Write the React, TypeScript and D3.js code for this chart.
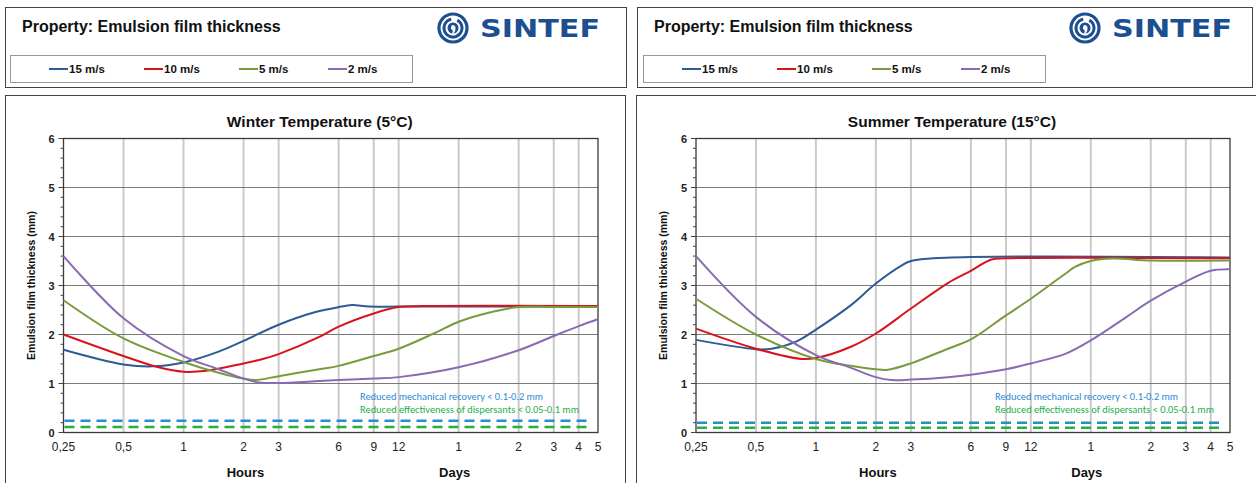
import React from "react";
import * as d3 from "d3";

type Pt = [number, number];

const seriesNames = ["15 m/s", "10 m/s", "5 m/s", "2 m/s"];
const seriesColors = ["#2d5b95", "#d7141c", "#7a9b3c", "#8a6bb3"];

const tickHours = [0.25, 0.5, 1, 2, 3, 6, 9, 12, 24, 48, 72, 96, 120];
const tickLabels = ["0,25", "0,5", "1", "2", "3", "6", "9", "12", "1", "2", "3", "4", "5"];
const yTicks = [0, 1, 2, 3, 4, 5, 6];

const winter15: Pt[] = [[0.25, 1.69], [0.5, 1.39], [0.7, 1.35], [1, 1.43], [1.5, 1.65], [2, 1.87], [3, 2.2], [4.5, 2.45], [6, 2.56], [7, 2.6], [8.5, 2.57], [12, 2.57], [120, 2.57]];
const winter10: Pt[] = [[0.25, 2.0], [0.5, 1.56], [0.75, 1.33], [1, 1.24], [1.3, 1.26], [2, 1.41], [2.5, 1.5], [3, 1.6], [4.8, 1.95], [6, 2.16], [9, 2.43], [12, 2.56], [16, 2.58], [120, 2.58]];
const winter5: Pt[] = [[0.25, 2.7], [0.5, 1.92], [1, 1.44], [1.5, 1.22], [2, 1.1], [2.3, 1.07], [3, 1.15], [4.8, 1.29], [6, 1.36], [9, 1.56], [12, 1.71], [18, 2.02], [24, 2.26], [36, 2.47], [48, 2.56], [72, 2.56], [120, 2.56]];
const winter2: Pt[] = [[0.25, 3.6], [0.5, 2.33], [1, 1.56], [1.5, 1.29], [2, 1.1], [2.4, 1.02], [3, 1.01], [4.8, 1.05], [6, 1.07], [9, 1.1], [12, 1.13], [24, 1.33], [48, 1.68], [72, 1.97], [96, 2.17], [120, 2.31]];

const summer15: Pt[] = [[0.25, 1.89], [0.5, 1.7], [0.6, 1.71], [0.8, 1.86], [1, 2.1], [1.5, 2.6], [2, 3.04], [2.7, 3.41], [3, 3.5], [4.8, 3.57], [120, 3.57]];
const summer10: Pt[] = [[0.25, 2.12], [0.5, 1.71], [0.85, 1.5], [1, 1.52], [1.5, 1.75], [2, 2.02], [3, 2.53], [4.6, 3.05], [6, 3.3], [7.6, 3.53], [9, 3.555], [120, 3.555]];
const summer5: Pt[] = [[0.25, 2.73], [0.5, 2.0], [1, 1.5], [1.5, 1.36], [2, 1.29], [2.3, 1.28], [3, 1.41], [4.6, 1.71], [6, 1.9], [9, 2.39], [12, 2.73], [18, 3.25], [20, 3.38], [24, 3.5], [31, 3.55], [48, 3.51], [120, 3.51]];
const summer2: Pt[] = [[0.25, 3.6], [0.5, 2.36], [1, 1.58], [1.5, 1.32], [2, 1.13], [2.4, 1.07], [3, 1.08], [4.6, 1.13], [6, 1.18], [9, 1.29], [12, 1.41], [18, 1.61], [24, 1.88], [36, 2.35], [48, 2.69], [72, 3.08], [96, 3.3], [120, 3.33]];

const winterThresholds = [0.24, 0.11];
const summerThresholds = [0.2, 0.095];
const thresholdColors = ["#2a8ad6", "#22b04b"];
const thresholdTexts = ["Reduced mechanical recovery < 0.1-0.2 mm", "Reduced effectiveness of dispersants < 0.05-0.1 mm"];

const FONT = "'Liberation Sans', Arial, sans-serif";

function Logo({ cx, cy, tx }: { cx: number; cy: number; tx: number }) {
  const col = "#1c4f8f";
  const arc = d3.arc();
  const mid = arc({ innerRadius: 7.5, outerRadius: 10.5, startAngle: 0.5, endAngle: 2 * Math.PI - 0.2 }) as string;
  return (
    <g>
      <circle cx={cx} cy={cy} r={14} fill="none" stroke={col} strokeWidth={3.2} />
      <path d={mid} transform={`translate(${cx},${cy})`} fill={col} />
      <circle cx={cx} cy={cy} r={5.5} fill={col} />
      <path d={`M${cx - 1},${cy - 3} q4,0 3.5,4 q-0.5,4 -4,6 q2,-3 1,-5 q-3,-1 -0.5,-5z`} fill="#fff" />
      <text x={tx} y={cy + 8.5} fontFamily="'DejaVu Sans', sans-serif" fontWeight={700} fontSize={24} fill={col} textLength={120} lengthAdjust="spacingAndGlyphs">SINTEF</text>
    </g>
  );
}

function Header({ x, w, legendX }: { x: number; w: number; legendX: number }) {
  const offs = [39, 134, 229, 318];
  return (
    <g>
      <rect x={x + 0.5} y={7.5} width={w} height={80} fill="#fff" stroke="#444" strokeWidth={1} />
      <text x={x + 17} y={32} fontFamily={FONT} fontWeight={700} fontSize={16} fill="#111">Property: Emulsion film thickness</text>
      <rect x={legendX + 0.5} y={55.5} width={402} height={27} fill="#fff" stroke="#999" strokeWidth={1} />
      {seriesNames.map((n, i) => (
        <g key={n}>
          <line x1={legendX + offs[i]} x2={legendX + offs[i] + 19} y1={69} y2={69} stroke={seriesColors[i]} strokeWidth={2} />
          <text x={legendX + offs[i] + 20} y={73} fontFamily={FONT} fontWeight={700} fontSize={11.5} fill="#111">{n}</text>
        </g>
      ))}
    </g>
  );
}

function Chart({ fx, fw, x0, x1, title, data, thresholds, annX }: { fx: number; fw: number; x0: number; x1: number; title: string; data: Pt[][]; thresholds: number[]; annX: number }) {
  const y0 = 432.5, y1 = 138.5;
  const x = d3.scaleLog().domain([0.25, 120]).range([x0, x1]);
  const y = d3.scaleLinear().domain([0, 6]).range([y0, y1]);
  const line = d3.line<Pt>().x(d => x(d[0])).y(d => y(d[1])).curve(d3.curveCatmullRom.alpha(0.5));
  const minor = d3.range(0, 6.01, 0.2);
  return (
    <g>
      <rect x={fx + 0.5} y={95.5} width={fw} height={420} fill="#fff" stroke="#444" strokeWidth={1} />
      <text x={(x0 + x1) / 2 - 11} y={127} textAnchor="middle" fontFamily={FONT} fontWeight={700} fontSize={15.5} fill="#111">{title}</text>
      {tickHours.slice(1, -1).map(h => (
        <line key={h} x1={x(h)} x2={x(h)} y1={y1} y2={y0} stroke="#cacaca" strokeWidth={2} />
      ))}
      {yTicks.slice(1, -1).map(v => (
        <line key={v} x1={x0} x2={x1} y1={y(v)} y2={y(v)} stroke="#7a7a7a" strokeWidth={1} />
      ))}
      <rect x={x0} y={y1} width={x1 - x0} height={y0 - y1} fill="none" stroke="#3a3a3a" strokeWidth={1.3} />
      {minor.map((v, i) => (
        <line key={i} x1={x0 - (Math.abs(v - Math.round(v)) < 1e-6 ? 5 : 3)} x2={x0} y1={y(v)} y2={y(v)} stroke="#444" strokeWidth={1} />
      ))}
      {yTicks.map(v => (
        <text key={v} x={x0 - 9} y={y(v) + 4} textAnchor="end" fontFamily={FONT} fontWeight={700} fontSize={11} fill="#222">{v}</text>
      ))}
      {tickHours.map((h, i) => (
        <text key={h} x={x(h)} y={451} textAnchor="middle" fontFamily={FONT} fontSize={12} fill="#222">{tickLabels[i]}</text>
      ))}
      <text x={x(2) + 2} y={477} textAnchor="middle" fontFamily={FONT} fontWeight={700} fontSize={13} fill="#111">Hours</text>
      <text x={x(24) - 4} y={477} textAnchor="middle" fontFamily={FONT} fontWeight={700} fontSize={13} fill="#111">Days</text>
      <text transform={`translate(${x0 - 29},${(y0 + y1) / 2}) rotate(-90)`} textAnchor="middle" fontFamily={FONT} fontWeight={700} fontSize={10.5} fill="#111">Emulsion film thickness (mm)</text>
      {thresholds.map((t, i) => (
        <line key={i} x1={x0 + 1} x2={x1 - 8} y1={y(t)} y2={y(t)} stroke={thresholdColors[i]} strokeWidth={2.5} strokeDasharray="10,6" />
      ))}
      {thresholdTexts.map((t, i) => (
        <text key={i} x={annX} y={400 + i * 12.5} fontFamily="Carlito, 'Liberation Sans Narrow', 'Liberation Sans', sans-serif" fontSize={9.5} fill={thresholdColors[i]} textLength={i === 0 ? 183 : 219} lengthAdjust="spacingAndGlyphs">{t}</text>
      ))}
      {data.map((d, i) => (
        <path key={i} d={line(d) as string} fill="none" stroke={seriesColors[i]} strokeWidth={2} />
      ))}
    </g>
  );
}

export default function App() {
  return (
    <svg width={1256} height={483} style={{ position: "absolute", left: 0, top: 0, background: "#fff" }}>
      <rect x={0} y={0} width={1256} height={483} fill="#fff" />
      <Header x={5} w={621} legendX={10} />
      <Header x={637} w={615} legendX={643} />
      <Logo cx={453} cy={28} tx={480} />
      <Logo cx={1085} cy={28} tx={1112} />
      <Chart fx={5} fw={620} x0={63.5} x1={598} title="Winter Temperature (5°C)" data={[winter15, winter10, winter5, winter2]} thresholds={winterThresholds} annX={360} />
      <Chart fx={636} fw={640} x0={696} x1={1230} title="Summer Temperature (15°C)" data={[summer15, summer10, summer5, summer2]} thresholds={summerThresholds} annX={995} />
    </svg>
  );
}
